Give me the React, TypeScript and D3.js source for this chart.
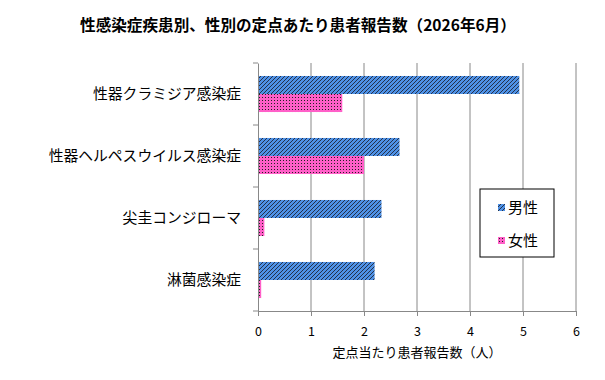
import React, { useEffect, useRef } from "react";
import * as d3 from "d3";

// --- Data ---
const categories = [
  "性器クラミジア感染症",
  "性器ヘルペスウイルス感染症",
  "尖圭コンジローマ",
  "淋菌感染症",
];
const maleValues = [4.93, 2.67, 2.33, 2.2];
const femaleValues = [1.59, 2.0, 0.12, 0.06];
const seriesNames = ["男性", "女性"];
const xTicks = [0, 1, 2, 3, 4, 5, 6];

const title = "性感染症疾患別、性別の定点あたり患者報告数（2026年6月）";
const xTitle = "定点当たり患者報告数（人）";

const W = 605;
const H = 380;
const FONT = "'Noto Sans CJK JP', 'Noto Sans', sans-serif";

const App: React.FC = () => {
  const svgRef = useRef<SVGSVGElement>(null);

  useEffect(() => {
    if (!svgRef.current) return;
    const svg = d3.select(svgRef.current);
    svg.selectAll("*").remove();

    const margin = { left: 258, right: 29, top: 63, bottom: 69 };
    const plotW = W - margin.left - margin.right;
    const plotH = H - margin.top - margin.bottom;

    // patterns
    const defs = svg.append("defs");
    const hatch = defs
      .append("pattern")
      .attr("id", "hatch-blue")
      .attr("patternUnits", "userSpaceOnUse")
      .attr("width", 4)
      .attr("height", 4);
    hatch.append("rect").attr("width", 4).attr("height", 4).attr("fill", "#4f92e6");
    hatch
      .append("path")
      .attr("d", "M-1,1 L1,-1 M0,4 L4,0 M3,5 L5,3")
      .attr("stroke", "#1c2030")
      .attr("stroke-width", 0.85);

    const dots = defs
      .append("pattern")
      .attr("id", "dots-pink")
      .attr("patternUnits", "userSpaceOnUse")
      .attr("width", 3)
      .attr("height", 3);
    dots.append("rect").attr("width", 3).attr("height", 3).attr("fill", "#ff5fc8");
    dots.append("rect").attr("x", 1).attr("y", 1).attr("width", 1).attr("height", 1).attr("fill", "#222");

    const fills = ["url(#hatch-blue)", "url(#dots-pink)"];

    const x = d3.scaleLinear().domain([0, 6]).range([0, plotW]);
    const y = d3.scaleBand<string>().domain(categories).range([0, plotH]).padding(0);
    const sub = d3
      .scaleBand<string>()
      .domain(seriesNames)
      .range([0, y.bandwidth()])
      .paddingOuter(0.72)
      .paddingInner(0);

    const g = svg.append("g").attr("transform", `translate(${margin.left},${margin.top})`);

    // gridlines
    g.selectAll("line.grid")
      .data(xTicks.slice(1))
      .enter()
      .append("line")
      .attr("x1", (d) => x(d))
      .attr("x2", (d) => x(d))
      .attr("y1", 0)
      .attr("y2", plotH)
      .attr("stroke", "#888")
      .attr("stroke-width", 1);

    // bars
    const rows = categories.map((c, i) => ({
      c,
      vals: [maleValues[i], femaleValues[i]],
    }));
    rows.forEach((r) => {
      r.vals.forEach((v, j) => {
        g.append("rect")
          .attr("x", x(0))
          .attr("y", (y(r.c) ?? 0) + (sub(seriesNames[j]) ?? 0))
          .attr("width", x(v) - x(0))
          .attr("height", sub.bandwidth())
          .attr("fill", fills[j]);
      });
    });

    // x axis
    const xAxis = g
      .append("g")
      .attr("transform", `translate(0,${plotH})`)
      .call(d3.axisBottom(x).tickValues(xTicks).tickSize(5).tickFormat(d3.format("d")));
    xAxis.select(".domain").attr("stroke", "#888");
    xAxis.selectAll(".tick line").attr("stroke", "#888");
    xAxis
      .selectAll(".tick text")
      .attr("dy", "1.35em")
      .style("font-family", FONT)
      .style("font-size", "12.5px")
      .style("fill", "#000");

    // y axis
    const yAxis = g.append("g").call(d3.axisLeft(y).tickSize(0).tickFormat(() => ""));
    yAxis.select(".domain").attr("stroke", "#888");
    g.selectAll("line.ytick")
      .data([0, ...categories.map((c) => (y(c) ?? 0) + y.bandwidth())])
      .enter()
      .append("line")
      .attr("x1", -5)
      .attr("x2", 0)
      .attr("y1", (d) => d)
      .attr("y2", (d) => d)
      .attr("stroke", "#888");

    g.selectAll("text.cat")
      .data(categories)
      .enter()
      .append("text")
      .attr("x", -17)
      .attr("y", (d) => (y(d) ?? 0) + y.bandwidth() / 2)
      .attr("dy", "0.35em")
      .attr("text-anchor", "end")
      .style("font-family", FONT)
      .style("font-size", "14.8px")
      .text((d) => d);

    // title
    svg
      .append("text")
      .attr("x", 298)
      .attr("y", 31)
      .attr("text-anchor", "middle")
      .style("font-family", FONT)
      .style("font-size", "15.6px")
      .style("font-weight", "bold")
      .text(title);

    // x title
    svg
      .append("text")
      .attr("x", 417)
      .attr("y", 357)
      .attr("text-anchor", "middle")
      .style("font-family", FONT)
      .style("font-size", "13px")
      .text(xTitle);

    // legend
    const lg = svg.append("g").attr("transform", "translate(480,189)");
    lg.append("rect")
      .attr("width", 74)
      .attr("height", 68)
      .attr("fill", "#fff")
      .attr("stroke", "#000")
      .attr("stroke-width", 1);
    seriesNames.forEach((s, i) => {
      const ly = 18 + i * 33;
      lg.append("rect")
        .attr("x", 18)
        .attr("y", ly - 3)
        .attr("width", 7)
        .attr("height", 7)
        .attr("fill", fills[i]);
      lg.append("text")
        .attr("x", 28)
        .attr("y", ly + 1)
        .attr("dy", "0.35em")
        .style("font-family", FONT)
        .style("font-size", "15px")
        .text(s);
    });
  }, []);

  return (
    <div style={{ position: "absolute", left: 0, top: 0 }}>
      <svg ref={svgRef} width={W} height={H} style={{ background: "#fff", display: "block" }} />
    </div>
  );
};

export default App;
